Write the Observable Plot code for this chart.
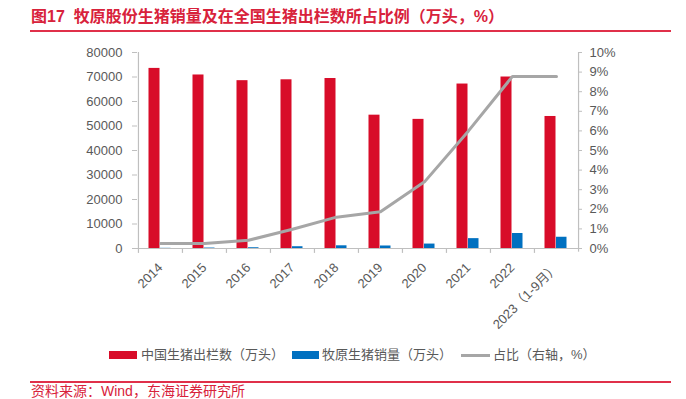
<!DOCTYPE html>
<html>
<head>
<meta charset="utf-8">
<script src="https://cdn.jsdelivr.net/npm/d3@7"></script>
<script src="https://cdn.jsdelivr.net/npm/@observablehq/plot@0.6"></script>
<style>
  html, body { margin: 0; padding: 0; background: #fff; }
  body { width: 686px; height: 399px; position: relative; overflow: hidden;
         font-family: "Liberation Sans", Arial, "Noto Sans CJK SC", sans-serif; }
  #title { position: absolute; left: 31px; top: 6px; font-size: 16px; font-weight: bold;
           color: #d8223b; line-height: 22px; white-space: nowrap;
           font-family: "Liberation Sans", "Noto Sans CJK SC", sans-serif; }
  #topline { position: absolute; left: 30px; top: 30px; width: 641px; height: 2px; background: #e0304a; }
  #chart { position: absolute; left: 0; top: 0; }
  .lg { position: absolute; font-size: 13px; color: #595959; line-height: 16px; top: 347px; white-space: nowrap;
        font-family: "Liberation Sans", "Noto Sans CJK SC", sans-serif; }
  .sw { position: absolute; }
  #botline { position: absolute; left: 30px; top: 381px; width: 641px; height: 2px; background: #e0304a; }
  #source { position: absolute; left: 31px; top: 383px; font-size: 14px; color: #d8223b; line-height: 16px; white-space: nowrap;
            font-family: "Liberation Sans", "Noto Sans CJK SC", sans-serif; }
</style>
</head>
<body>
<div id="title">图17&nbsp;&nbsp;牧原股份生猪销量及在全国生猪出栏数所占比例（万头，%）</div>
<div id="topline"></div>
<div id="chart"></div>
<div class="sw" style="left:109px;top:351px;width:28px;height:8px;background:#d80c29"></div>
<div class="lg" style="left:141px">中国生猪出栏数（万头）</div>
<div class="sw" style="left:292px;top:351px;width:27px;height:8px;background:#0070c0"></div>
<div class="lg" style="left:322px">牧原生猪销量（万头）</div>
<div class="sw" style="left:461px;top:354px;width:29px;height:2.5px;background:#a6a6a6"></div>
<div class="lg" style="left:493px">占比（右轴，%）</div>
<div id="botline"></div>
<div id="source">资料来源：Wind，东海证券研究所</div>
<script>
const years = ["2014", "2015", "2016", "2017", "2018", "2019", "2020", "2021", "2022", "2023（1-9月）"];
const chinaOutput = [73510, 70825, 68502, 68861, 69382, 54419, 52704, 67128, 69995, 53886];
const muyuanSales = [73.9, 184.9, 311.7, 723.7, 1101.1, 1025.3, 1811.5, 4026.3, 6120.1, 4592];
const sharePct = [0.26, 0.26, 0.42, 0.98, 1.6, 1.87, 3.4, 6.0, 8.78, 8.78];
const leftTicks = [0, 10000, 20000, 30000, 40000, 50000, 60000, 70000, 80000];
const rightTicks = [0, 1, 2, 3, 4, 5, 6, 7, 8, 9, 10];

const leftMax = 80000, rightMax = 10;
const k = leftMax / rightMax; // right axis mapped onto left scale

const rows = years.map((y, i) => ({year: y, china: chinaOutput[i], muyuan: muyuanSales[i], pct: sharePct[i]}));

const W = 686, H = 340;
const mL = 137, mR = 108, mT = 52, mB = 92;
const bw = (W - mL - mR) / years.length;

const axisGray = "#bfbfbf";
const textGray = "#595959";

const chart = Plot.plot({
  width: W,
  height: H,
  marginLeft: mL,
  marginRight: mR,
  marginTop: mT,
  marginBottom: mB,
  style: {fontFamily: '"Liberation Sans", Arial, "Noto Sans CJK SC", sans-serif', fontSize: "13px", background: "transparent"},
  x: {type: "band", domain: years, padding: 0, axis: null},
  y: {domain: [0, leftMax], axis: null},
  marks: [
    Plot.barY(rows, {x: "year", y: "china", fill: "#d80c29", insetLeft: 10.5, insetRight: 22.5}),
    Plot.barY(rows, {x: "year", y: "muyuan", fill: "#0070c0", insetLeft: 22, insetRight: 11.5}),
    Plot.ruleY([0], {stroke: axisGray, strokeWidth: 1.2}),
    Plot.ruleX([years[0]], {x: d => d, dx: -bw / 2, stroke: axisGray, strokeWidth: 1.2}),
    Plot.ruleX([years[years.length - 1]], {x: d => d, dx: bw / 2, y1: -1500, y2: leftMax, stroke: axisGray, strokeWidth: 1.2}),
    Plot.ruleX(years, {x: d => d, dx: -bw / 2, y1: 0, y2: -2000, stroke: axisGray, strokeWidth: 1.2}),
    Plot.lineY(rows, {x: "year", y: d => d.pct * k, stroke: "#a6a6a6", strokeWidth: 3}),
    Plot.axisY(leftTicks, {anchor: "left", tickSize: 5, tickPadding: 10, stroke: axisGray, fill: textGray, tickFormat: d => String(d), label: null, fontSize: 13}),
    Plot.axisY(rightTicks.map(v => v * k), {anchor: "right", tickSize: 3, tickPadding: 8, stroke: axisGray, fill: textGray, tickFormat: d => Math.round(d / k) + "%", label: null, fontSize: 13}),
    Plot.text(years, {x: d => d, y: 0, dy: 17, rotate: -45, textAnchor: "end", fill: textGray, fontSize: 13})
  ]
});
document.getElementById("chart").appendChild(chart);
</script>
</body>
</html>
